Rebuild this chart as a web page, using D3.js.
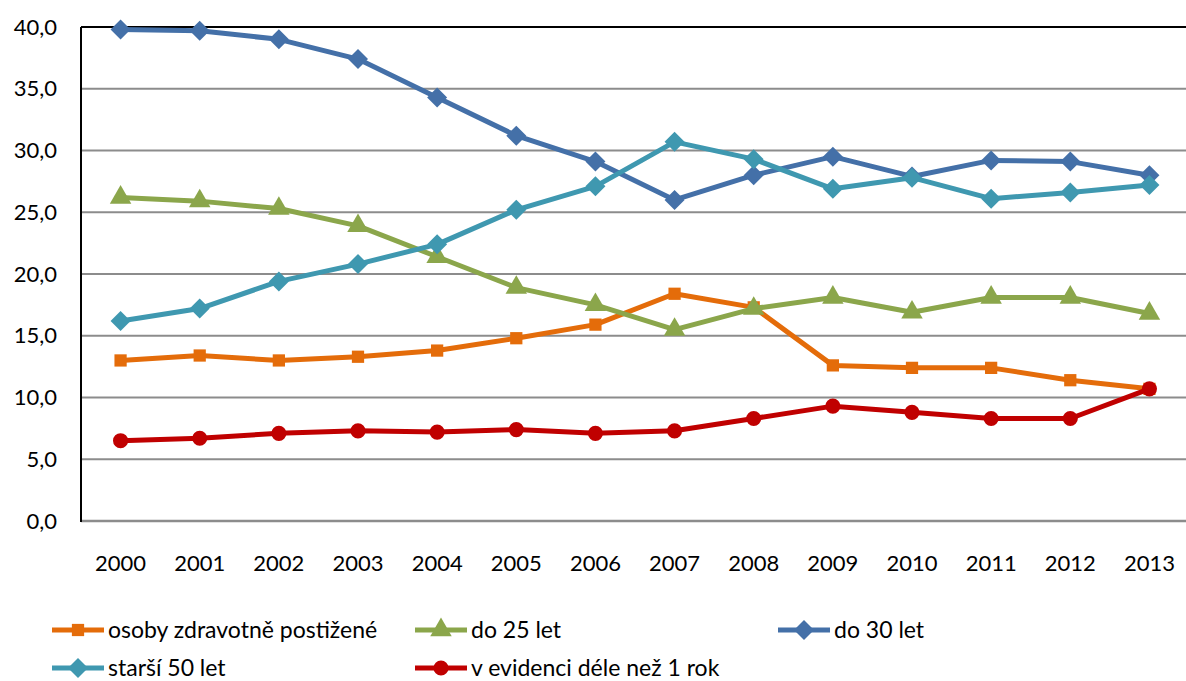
<!DOCTYPE html>
<html lang="cs">
<head>
    <meta charset="UTF-8">
    <script src="https://d3js.org/d3.v7.min.js"></script>
    <style>
        body { margin: 0; background: #fff; }
        text { font-family: Lato, "Open Sans", sans-serif; fill: #000; }
    </style>
</head>
<body>
<svg id="chart" width="1186" height="681"></svg>
<script>
    var years = ["2000", "2001", "2002", "2003", "2004", "2005", "2006", "2007", "2008", "2009", "2010", "2011", "2012", "2013"]
    var postizene = [13.0, 13.4, 13.0, 13.3, 13.8, 14.8, 15.9, 18.4, 17.3, 12.6, 12.4, 12.4, 11.4, 10.7]
    var do25 = [26.2, 25.9, 25.3, 23.9, 21.4, 18.9, 17.5, 15.5, 17.2, 18.1, 16.9, 18.1, 18.1, 16.8]
    var do30 = [39.8, 39.7, 39.0, 37.4, 34.3, 31.2, 29.1, 26.0, 28.0, 29.5, 27.9, 29.2, 29.1, 28.0]
    var starsi50 = [16.2, 17.2, 19.4, 20.8, 22.4, 25.2, 27.1, 30.7, 29.3, 26.9, 27.8, 26.1, 26.6, 27.2]
    var evidence = [6.5, 6.7, 7.1, 7.3, 7.2, 7.4, 7.1, 7.3, 8.3, 9.3, 8.8, 8.3, 8.3, 10.7]
    var yTicks = [0, 5, 10, 15, 20, 25, 30, 35, 40]

    // rot = otočení značky (kosočtverec = čtverec o 45°)
    var series = [
        {name: "osoby zdravotně postižené", values: postizene, color: "#E46C0A", sym: d3.symbolSquare, size: 150, rot: 0},
        {name: "do 25 let", values: do25, color: "#8BA64B", sym: d3.symbolTriangle, size: 200, rot: 0},
        {name: "do 30 let", values: do30, color: "#4470A8", sym: d3.symbolSquare, size: 200, rot: 45},
        {name: "starší 50 let", values: starsi50, color: "#3F98B0", sym: d3.symbolSquare, size: 200, rot: 45},
        {name: "v evidenci déle než 1 rok", values: evidence, color: "#C00000", sym: d3.symbolCircle, size: 180, rot: 0}
    ]

    var svg = d3.select("#chart")
    var plotLeft = 81, plotTop = 27, plotBottom = 521, plotRight = 1189

    var x = d3.scaleBand().domain(years).range([plotLeft, plotRight])
    var y = d3.scaleLinear().domain([0, 40]).range([plotBottom, plotTop])

    // mřížka
    svg.append("g")
        .selectAll("line")
        .data(yTicks.slice(1, -1))
        .enter()
        .append("line")
        .attr("x1", plotLeft).attr("x2", plotRight)
        .attr("y1", function (d) { return y(d) }).attr("y2", function (d) { return y(d) })
        .attr("stroke", "#8c8c8c").attr("stroke-width", 2)

    svg.append("line").attr("x1", plotLeft).attr("x2", plotRight).attr("y1", plotTop).attr("y2", plotTop)
        .attr("stroke", "#000").attr("stroke-width", 2)
    svg.append("line").attr("x1", plotLeft).attr("x2", plotRight).attr("y1", plotBottom).attr("y2", plotBottom)
        .attr("stroke", "#8c8c8c").attr("stroke-width", 2.5)
    svg.append("line").attr("x1", plotLeft).attr("x2", plotLeft).attr("y1", plotTop).attr("y2", plotBottom + 1)
        .attr("stroke", "#000").attr("stroke-width", 2)

    var fmt = function (d) { return d3.format(".1f")(d).replace(".", ",") }

    var yAxis = svg.append("g")
        .attr("transform", "translate(" + plotLeft + ",0)")
        .call(d3.axisLeft(y).tickValues(yTicks).tickFormat(fmt).tickSize(0).tickPadding(24))
    yAxis.select(".domain").remove()
    yAxis.selectAll("text").style("font-size", "22px").style("font-family", "Lato, sans-serif")

    var xAxis = svg.append("g")
        .attr("transform", "translate(0," + plotBottom + ")")
        .call(d3.axisBottom(x).tickSize(0).tickPadding(34))
    xAxis.select(".domain").remove()
    xAxis.selectAll("text").style("font-size", "22px").style("font-family", "Lato, sans-serif")

    var line = d3.line()
        .x(function (d, i) { return x(years[i]) + x.bandwidth() / 2 })
        .y(function (d) { return y(d) })

    series.forEach(function (s) {
        var g = svg.append("g")
        g.append("path")
            .attr("d", line(s.values))
            .attr("fill", "none")
            .attr("stroke", s.color)
            .attr("stroke-width", 5)
            .attr("stroke-linejoin", "round")
        g.selectAll("path.m")
            .data(s.values)
            .enter()
            .append("path")
            .attr("class", "m")
            .attr("d", d3.symbol().type(s.sym).size(s.size))
            .attr("transform", function (d, i) {
                return "translate(" + (x(years[i]) + x.bandwidth() / 2) + "," + y(d) + ") rotate(" + s.rot + ")"
            })
            .attr("fill", s.color)
    })

    // legenda
    var legendPos = [[52, 630], [415, 630], [778, 630], [52, 668], [415, 668]]
    series.forEach(function (s, i) {
        var lg = svg.append("g").attr("transform", "translate(" + legendPos[i][0] + "," + legendPos[i][1] + ")")
        lg.append("line").attr("x1", 0).attr("x2", 52).attr("y1", 0).attr("y2", 0)
            .attr("stroke", s.color).attr("stroke-width", 5)
        lg.append("path").attr("d", d3.symbol().type(s.sym).size(s.size))
            .attr("transform", "translate(26,0) rotate(" + s.rot + ")").attr("fill", s.color)
        lg.append("text").attr("x", 56).attr("y", 8).style("font-size", "23px").text(s.name)
    })
</script>
</body>
</html>
